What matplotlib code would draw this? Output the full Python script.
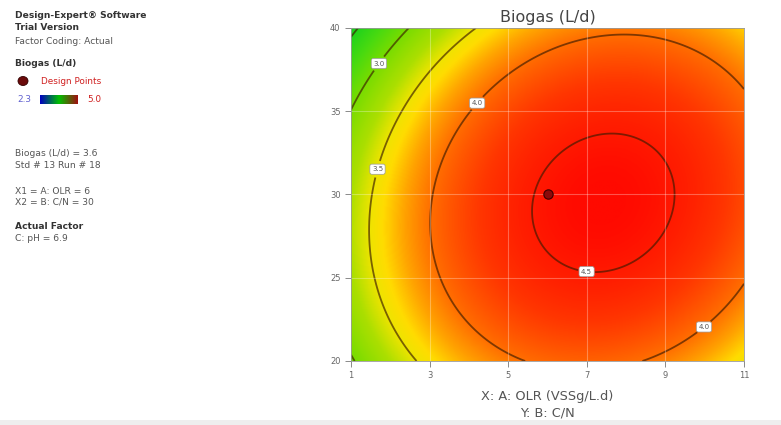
import matplotlib
matplotlib.use("Agg")
import matplotlib.pyplot as plt
import numpy as np
from matplotlib.colors import LinearSegmentedColormap
from matplotlib.patches import Rectangle, Ellipse

# quadratic response model (actual units)
x_center = 7.42     # OLR at optimum
y_center = 29.5     # C/N at optimum
x_scale = 1.80
y_scale = 4.13
tilt = 0.12         # A*B interaction
b_max = 4.602
b_curv = 0.102

levels = [2.5, 3.0, 3.5, 4.0, 4.5]
label_pos = [(1.75, 37.8), (4.18, 35.55), (1.75, 31.47), (7.0, 25.47), (9.93, 22.2)]

design_x = [6]
design_y = [30]

x_ticks = [1, 3, 5, 7, 9, 11]
y_ticks = [20, 25, 30, 35, 40]

info_lines = [
    ("Design-Expert® Software", "bold", 16, "#333333"),
    ("Trial Version", "bold", 28, "#333333"),
    ("Factor Coding: Actual", "normal", 41, "#555555"),
    ("Biogas (L/d)", "bold", 63, "#333333"),
    ("Biogas (L/d) = 3.6", "normal", 154, "#555555"),
    ("Std # 13 Run # 18", "normal", 165, "#555555"),
    ("X1 = A: OLR = 6", "normal", 191, "#555555"),
    ("X2 = B: C/N = 30", "normal", 202, "#555555"),
    ("Actual Factor", "bold", 227, "#333333"),
    ("C: pH = 6.9", "normal", 238, "#555555"),
]

W, H = 781, 425
fig = plt.figure(figsize=(W / 100, H / 100), dpi=100)

xs = np.linspace(1, 11, 400)
ys = np.linspace(20, 40, 400)
X, Y = np.meshgrid(xs, ys)
P = (X - x_center) / x_scale
Q = (Y - y_center) / y_scale
R2 = P ** 2 + Q ** 2 - 2 * tilt * P * Q
Z = b_max - b_curv * R2

# colour ramp (green -> yellow -> red), stops in response units
zmin, zmax = 2.3, 4.6
stops = [2.4, 2.75, 3.0, 3.3, 3.5, 3.62, 3.8, 4.0, 4.3, 4.5, 4.6]
stop_colors = ["#10d020", "#48da10", "#78dc00", "#acdf00", "#eee400", "#ffdc00",
               "#ffa400", "#ff6e00", "#ff3600", "#ff1a00", "#ff0a00"]
cmap = LinearSegmentedColormap.from_list(
    "de", [(0.0, stop_colors[0])] + [((s - zmin) / (zmax - zmin), c) for s, c in zip(stops, stop_colors)])

ax = fig.add_axes([351 / W, 1 - 361 / H, 393 / W, 333 / H])
ax.imshow(Z, extent=[1, 11, 20, 40], origin="lower", aspect="auto",
          cmap=cmap, vmin=zmin, vmax=zmax, interpolation="bilinear")
cs = ax.contour(X, Y, Z, levels=levels, colors="#3a1a00", linewidths=1.3, alpha=0.65)
lbls = ax.clabel(cs, fmt="%.1f", fontsize=5, manual=label_pos, inline=True, inline_spacing=3)
for t in lbls:
    t.set_rotation(0)
    t.set_color("#555555")
    t.set_bbox(dict(boxstyle="round,pad=0.3", fc="white", ec="#999999", lw=0.5))

ax.scatter(design_x, design_y, s=45, color="#8b0a0a", edgecolors="#3a0000", linewidths=0.8, zorder=5)

for v in x_ticks[1:-1]:
    ax.axvline(v, color="white", lw=0.8, alpha=0.3)
for v in y_ticks[1:-1]:
    ax.axhline(v, color="white", lw=0.8, alpha=0.3)

ax.set_xlim(1, 11)
ax.set_ylim(20, 40)
ax.set_xticks(x_ticks)
ax.set_yticks(y_ticks)
ax.tick_params(colors="#777777", labelsize=6, length=4, width=0.6, labelcolor="#666666")
for s in ax.spines.values():
    s.set_color("#999999")
    s.set_linewidth(0.6)
ax.set_title("Biogas (L/d)", fontsize=11.5, color="#444444", pad=4)
ax.set_xlabel("X: A: OLR (VSSg/L.d)\nY: B: C/N", fontsize=9.3, color="#555555",
              labelpad=7, linespacing=1.35)

# left info panel
for txt, wt, yp, col in info_lines:
    fig.text(15 / W, 1 - yp / H, txt, fontsize=6.6, fontweight=wt, color=col, va="center")

fig.add_artist(Ellipse((23 / W, 1 - 81 / H), 10 / W, 9 / H,
                       transform=fig.transFigure, fc="#6b0a0a", ec="#300000", lw=0.6))
fig.text(41 / W, 1 - 81 / H, "Design Points", fontsize=6.4, color="#d02020", va="center")
fig.text(17 / W, 1 - 100 / H, "2.3", fontsize=6.4, color="#6060d0", va="center")
fig.text(87 / W, 1 - 100 / H, "5.0", fontsize=6.4, color="#d02020", va="center")
cax = fig.add_axes([40 / W, 1 - 104 / H, 38 / W, 9 / H])
bar_cmap = LinearSegmentedColormap.from_list("bar", ["#0000c0", "#00c000", "#a01010"])
cax.imshow(np.linspace(0, 1, 100)[None, :], aspect="auto", cmap=bar_cmap)
cax.set_axis_off()

fig.add_artist(Rectangle((0, 0), 1, 5 / H, transform=fig.transFigure, fc="#eeeeee", ec="none"))

fig.savefig("out.png", dpi=100)
